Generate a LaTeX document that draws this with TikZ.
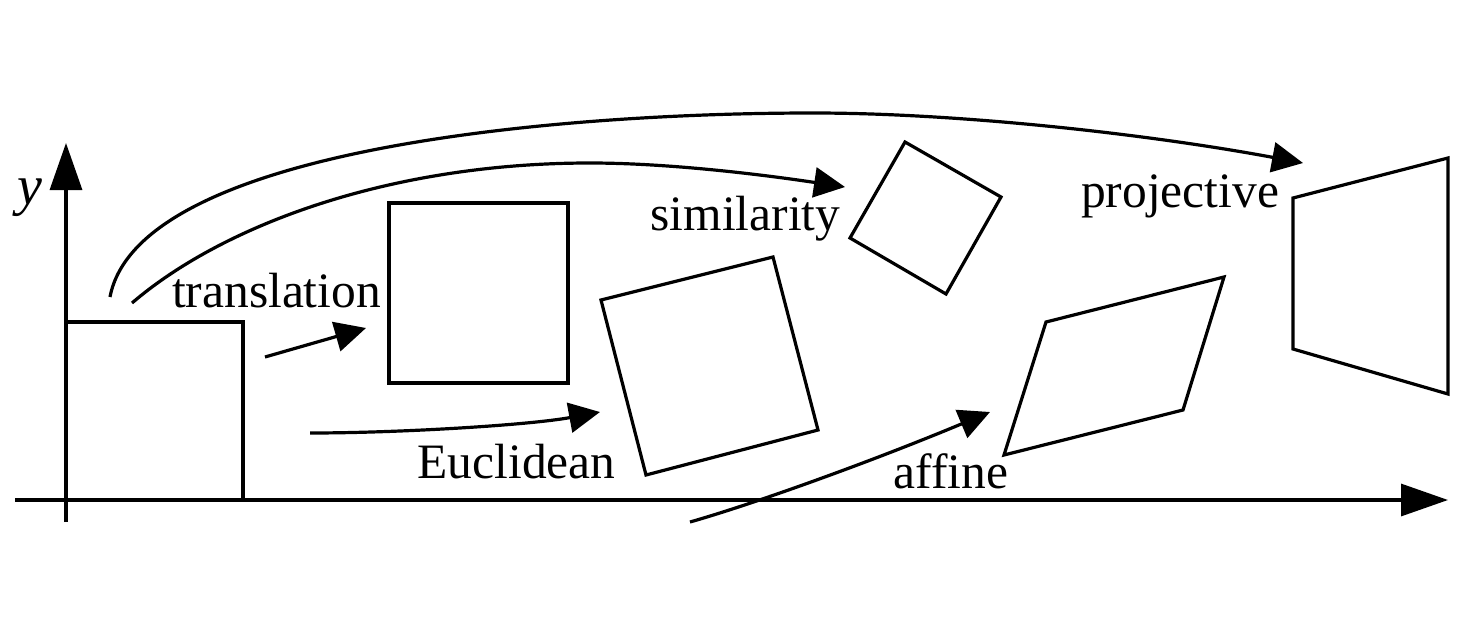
\documentclass[tikz,border=0pt]{standalone}
\usepackage{fontspec}
\setmainfont{Liberation Serif}
\usetikzlibrary{arrows.meta}
\begin{document}
\begin{tikzpicture}[x=1pt,y=-1pt,
  shape line/.style={line width=3.2pt,line join=miter},
  axisarrow/.style={line width=3.2pt,-{Triangle[length=47pt,width=32pt]}},
  maparrow/.style={line width=3.2pt,-{Triangle[length=31pt,width=30pt]}},
  lbl/.style={inner sep=0pt,anchor=base,font=\fontsize{49.5}{58}\selectfont}]
\useasboundingbox (0,0) rectangle (1480,632);
% axes
\coordinate (xs) at (15,500);
\coordinate (xe) at (1448,500);
\coordinate (ys) at (66,522);
\coordinate (ye) at (66,143);
\draw[axisarrow] (xs) -- (xe);
\draw[axisarrow] (ys) -- (ye);
\node[inner sep=0pt,anchor=base,font=\fontsize{56}{60}\selectfont\itshape] (ylab) at (30,204) {y};
% shapes
\draw[shape line] (66,322) -- (243,322) -- (243,500);
\draw[shape line] (389,203) rectangle (568,383);
\draw[shape line] (601,300) -- (773,257) -- (818,430) -- (646,475) -- cycle;
\draw[shape line] (905,142) -- (1001,197) -- (946,294) -- (850,238) -- cycle;
\draw[shape line] (1046,322) -- (1224,277) -- (1183,410) -- (1004,455) -- cycle;
\draw[shape line] (1293,198) -- (1448,158) -- (1448,394) -- (1293,349) -- cycle;
% labels
\node[lbl] (ltrans) at (276.5,307) {translation};
\node[lbl] (lsim) at (745.5,230) {similarity};
\node[lbl] (lproj) at (1180,207) {projective};
\node[lbl] (leuc) at (516.5,478) {Euclidean};
\node[lbl] (laff) at (951,488) {affine};
% arrow end points
\coordinate (ts) at (265,357);
\coordinate (te) at (366,328);
\coordinate (es) at (310,433);
\coordinate (ee) at (600,412);
\coordinate (ss) at (132,303);
\coordinate (sm) at (590,163);
\coordinate (se) at (845,187);
\coordinate (ps) at (110,297);
\coordinate (pm) at (813,113);
\coordinate (pe) at (1303,163);
\coordinate (as) at (690,522);
\coordinate (ae) at (990,412);
% arrows
\draw[maparrow] (ts) -- (te);
\draw[maparrow] (es) .. controls (400,433) and (530,425) .. (ee);
\draw[maparrow] (ss) .. controls (223,225) and (390,163) .. (sm)
  .. controls (670,163) and (765,175) .. (se);
\draw[maparrow] (ps) .. controls (138,150) and (550,113) .. (pm)
  .. controls (963,113) and (1153,135) .. (pe);
\draw[maparrow] (as) .. controls (760,502) and (880,458) .. (ae);
\end{tikzpicture}
\end{document}
